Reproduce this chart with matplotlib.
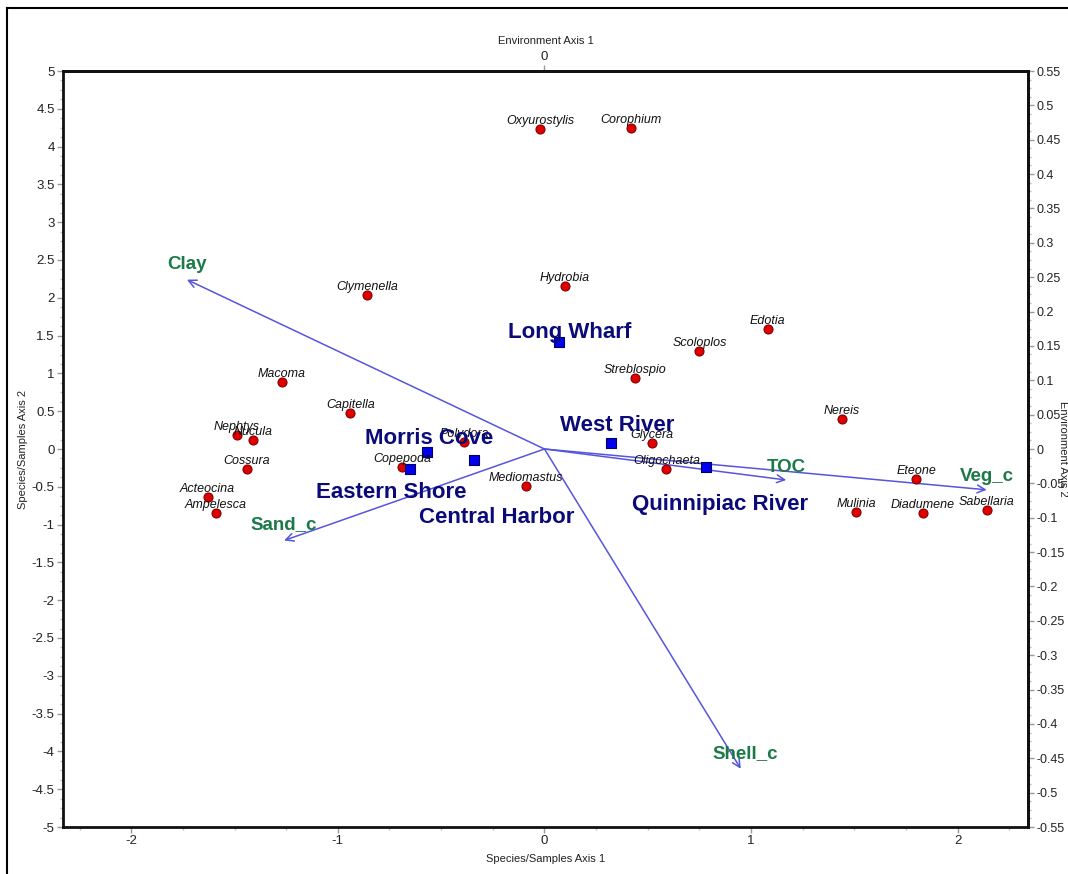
import matplotlib
matplotlib.use("Agg")
import matplotlib.pyplot as plt
from matplotlib.lines import Line2D
from matplotlib.ticker import MultipleLocator, FuncFormatter, FixedLocator

# ---------------- data ----------------
species = ["Oxyurostylis", "Corophium", "Hydrobia", "Clymenella", "Edotia", "Scoloplos",
           "Macoma", "Streblospio", "Capitella", "Nereis", "Nephtys", "Nucula", "Polydora",
           "Glycera", "Cossura", "Copepoda", "Oligochaeta", "Eteone", "Mediomastus",
           "Acteocina", "Ampelesca", "Mulinia", "Diadumene", "Sabellaria"]
species_x = [-0.02, 0.42, 0.10, -0.86, 1.08, 0.75, -1.27, 0.44, -0.94, 1.44, -1.49, -1.41,
             -0.39, 0.52, -1.44, -0.69, 0.59, 1.80, -0.09, -1.63, -1.59, 1.51, 1.83, 2.14]
species_y = [4.23, 4.24, 2.15, 2.04, 1.59, 1.30, 0.89, 0.94, 0.48, 0.40, 0.19, 0.12,
             0.09, 0.08, -0.26, -0.24, -0.26, -0.40, -0.49, -0.63, -0.85, -0.83, -0.85, -0.81]

sites = ["Long Wharf", "West River", "Morris Cove", "Eastern Shore", "Central Harbor", "Quinnipiac River"]
sites_x = [0.07, 0.32, -0.57, -0.65, -0.34, 0.78]
sites_y = [1.42, 0.08, -0.04, -0.26, -0.15, -0.24]

env_vars = ["Clay", "Sand_c", "Shell_c", "TOC", "Veg_c"]
env_x = [-1.73, -1.26, 0.95, 1.17, 2.14]
env_y = [2.24, -1.21, -4.23, -0.41, -0.54]

# label placement (text anchor positions, data coords)
site_label_pos = {"Long Wharf": (0.12, 1.47), "West River": (0.35, 0.24),
                  "Morris Cove": (-0.56, 0.07), "Eastern Shore": (-0.74, -0.65),
                  "Central Harbor": (-0.23, -0.98), "Quinnipiac River": (0.85, -0.81)}
env_label_pos = {"Clay": (-1.73, 2.38), "Sand_c": (-1.26, -1.06), "Shell_c": (0.97, -4.09),
                 "TOC": (1.17, -0.30), "Veg_c": (2.14, -0.42)}

x_lim = (-2.33, 2.34)
y_lim = (-5, 5)
env2_scale = 0.11

# ---------------- style ----------------
FONT = ["Liberation Sans", "DejaVu Sans"]
plt.rcParams["font.family"] = FONT
W, H = 1068, 874
fig = plt.figure(figsize=(W / 100, H / 100), dpi=100)
ax = fig.add_axes([63 / W, 1 - 827 / H, (1028 - 63) / W, (827 - 71) / H])
ax.set_xlim(*x_lim)
ax.set_ylim(*y_lim)

for s in ax.spines.values():
    s.set_linewidth(2)
    s.set_color("#111111")

fmt = FuncFormatter(lambda v, p: f"{round(v, 4):g}".replace("\u2212", "-"))
TICK_KW = dict(which="major", direction="out", length=4, width=1, color="#999999",
               labelsize=9.5, labelcolor="#222222", pad=2)
MINOR_KW = dict(which="minor", direction="out", length=2.5, width=1, color="#bbbbbb")
ax.xaxis.set_major_locator(MultipleLocator(1))
ax.xaxis.set_minor_locator(MultipleLocator(0.25))
ax.yaxis.set_major_locator(MultipleLocator(0.5))
ax.yaxis.set_minor_locator(MultipleLocator(0.125))
ax.xaxis.set_major_formatter(fmt)
ax.yaxis.set_major_formatter(fmt)
ax.tick_params(**TICK_KW)
ax.tick_params(**MINOR_KW)
ax.set_xlabel("Species/Samples Axis 1", fontsize=8, color="#222222", labelpad=5)
ax.set_ylabel("Species/Samples Axis 2", fontsize=8, color="#222222")
ax.yaxis.set_label_coords(-0.0363, 0.5)

# right environment axis 2
sec_y = ax.secondary_yaxis("right", functions=(lambda v: v * env2_scale, lambda v: v / env2_scale))
sec_y.yaxis.set_major_locator(MultipleLocator(0.05))
sec_y.yaxis.set_minor_locator(MultipleLocator(0.0125))
sec_y.yaxis.set_major_formatter(fmt)
sec_y.tick_params(**dict(TICK_KW, labelsize=9))
sec_y.tick_params(**MINOR_KW)
sec_y.spines["right"].set_linewidth(2)
fig.text(1063 / W, 1 - 449 / H, "Environment Axis 2", fontsize=8, color="#222222",
         rotation=270, ha="center", va="center")

# top environment axis 1
sec_x = ax.secondary_xaxis("top")
sec_x.xaxis.set_major_locator(FixedLocator([0]))
sec_x.xaxis.set_minor_locator(FixedLocator([]))
sec_x.xaxis.set_major_formatter(fmt)
sec_x.tick_params(**TICK_KW)
sec_x.spines["top"].set_linewidth(2)
sec_x.set_xlabel("Environment Axis 1", fontsize=8, color="#222222", labelpad=5)

# environment arrows
arrow_color = "#5555dd"
for name, ex, ey in zip(env_vars, env_x, env_y):
    ax.annotate("", xy=(ex, ey), xytext=(0, 0),
                arrowprops=dict(arrowstyle="->", color=arrow_color, lw=1.1,
                                shrinkA=0, shrinkB=0, mutation_scale=14), zorder=2)
    lx, ly = env_label_pos[name]
    ax.text(lx, ly, name, ha="center", va="baseline", fontsize=13.5, fontweight="bold",
            color="#1b7a48", zorder=5)

# species points
ax.scatter(species_x, species_y, s=42, color="#e00000", edgecolor="#800000",
           linewidth=0.8, zorder=4)
for name, sx, sy in zip(species, species_x, species_y):
    ax.annotate(name, (sx, sy), xytext=(0, 5), textcoords="offset pixels",
                ha="center", va="baseline", fontsize=9, fontstyle="italic",
                color="#111111", zorder=5)

# sample sites
ax.scatter(sites_x, sites_y, s=50, marker="s", color="#0000ee", edgecolor="#000066",
           linewidth=0.8, zorder=4)
for name in sites:
    lx, ly = site_label_pos[name]
    ax.text(lx, ly, name, ha="center", va="baseline", fontsize=16, fontweight="bold",
            color="#0a0a78", zorder=5)

# outer frame (left and top)
fig.add_artist(Line2D([7 / W, 7 / W], [0, 1 - 8 / H], transform=fig.transFigure,
                      color="black", lw=1.5))
fig.add_artist(Line2D([7 / W, 1], [1 - 8 / H, 1 - 8 / H], transform=fig.transFigure,
                      color="black", lw=1.5))

fig.savefig("out.png", dpi=100)
